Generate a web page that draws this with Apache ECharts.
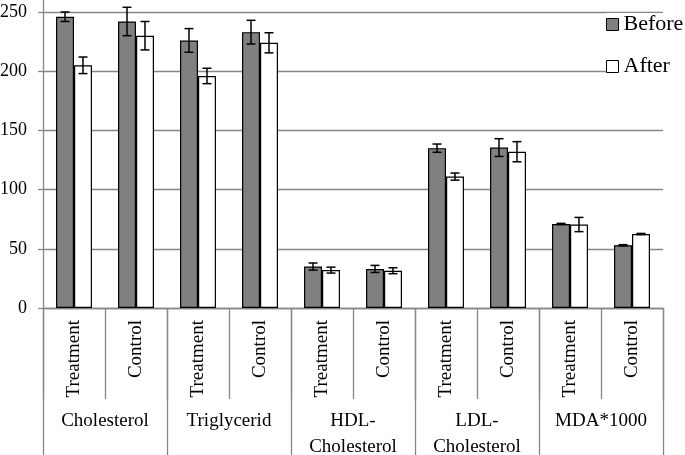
<!DOCTYPE html>
<html>
<head>
<meta charset="utf-8">
<script src="https://cdn.jsdelivr.net/npm/echarts@6/dist/echarts.min.js"></script>
<style>
  html, body { margin: 0; padding: 0; background: #fff; }
  #chart { width: 685px; height: 455px; }
</style>
</head>
<body>
<div id="chart"></div>
<script>
const subCategories = ['Treatment', 'Control', 'Treatment', 'Control', 'Treatment', 'Control', 'Treatment', 'Control', 'Treatment', 'Control'];
const groups = ['Cholesterol', 'Triglycerid', 'HDL-\nCholesterol', 'LDL-\nCholesterol', 'MDA*1000'];
const seriesNames = ['Before', 'After'];
const before = [246, 242, 226, 233, 35, 33, 135, 135.5, 71, 53];
const beforeErr = [4, 12, 10, 10, 3, 3, 3.5, 7.5, 0.5, 0.5];
const after = [205, 230, 196, 224, 32, 31.5, 111, 132, 70.5, 62.5];
const afterErr = [7, 12, 6.5, 8.5, 2.5, 2.5, 3, 8.5, 6, 0.5];
const yTicks = [0, 50, 100, 150, 200, 250];

const FONT = 'Liberation Serif';
const GRAY = '#868686';
const BAR_FRAC = 0.29;

function errRender(side) {
  return function (params, api) {
    const xi = api.value(0), v = api.value(1), e = api.value(2);
    const band = api.size([1, 0])[0];
    const off = side * band * BAR_FRAC / 2;
    const top = api.coord([xi, v + e]);
    const bot = api.coord([xi, v - e]);
    const x = top[0] + off;
    const cap = 4.5;
    const style = { stroke: '#000', lineWidth: 1.5 };
    return {
      type: 'group',
      children: [
        { type: 'line', shape: { x1: x, y1: top[1], x2: x, y2: bot[1] }, style: style },
        { type: 'line', shape: { x1: x - cap, y1: top[1], x2: x + cap, y2: top[1] }, style: style },
        { type: 'line', shape: { x1: x - cap, y1: bot[1], x2: x + cap, y2: bot[1] }, style: style }
      ]
    };
  };
}

const chart = echarts.init(document.getElementById('chart'), null, { renderer: 'canvas' });
chart.setOption({
  animation: false,
  backgroundColor: '#fff',
  textStyle: { fontFamily: FONT },
  grid: { left: 43, right: 22, top: -1, bottom: 147, outerBoundsMode: 'none', containLabel: false },
  legend: {
    orient: 'vertical',
    left: 606,
    top: 13,
    padding: 0,
    itemGap: 19,
    itemWidth: 12,
    itemHeight: 12,
    backgroundColor: '#fff',
    icon: 'rect',
    textStyle: { fontFamily: FONT, fontSize: 22, lineHeight: 23, color: '#000' },
    data: [
      { name: seriesNames[0], itemStyle: { color: '#808080', borderColor: '#000', borderWidth: 1 } },
      { name: seriesNames[1], itemStyle: { color: '#fff', borderColor: '#000', borderWidth: 1 } }
    ]
  },
  xAxis: [
    {
      type: 'category',
      data: subCategories,
      position: 'bottom',
      axisLine: { show: true, lineStyle: { color: GRAY, width: 1.3 } },
      axisTick: { show: true, length: 91, lineStyle: { color: GRAY, width: 1.3 } },
      axisLabel: { interval: 0, rotate: 90, margin: 12, fontFamily: FONT, fontSize: 19, color: '#000' },
      splitLine: { show: false }
    },
    {
      type: 'category',
      data: groups,
      position: 'bottom',
      axisLine: { show: false },
      axisTick: { show: true, length: 147, lineStyle: { color: GRAY, width: 1.3 } },
      axisLabel: { interval: 0, margin: 100, fontFamily: FONT, fontSize: 19, lineHeight: 26, color: '#000' },
      splitLine: { show: false }
    }
  ],
  yAxis: {
    type: 'value',
    min: yTicks[0],
    max: 261,
    interval: 50,
    axisLine: { show: true, lineStyle: { color: GRAY, width: 1.3 } },
    axisTick: { show: true, length: 5, lineStyle: { color: GRAY, width: 1.3 } },
    axisLabel: { showMaxLabel: false, margin: 16, fontFamily: FONT, fontSize: 18, color: '#000' },
    splitLine: { show: true, showMaxLine: false, lineStyle: { color: GRAY, width: 1.3 } }
  },
  series: [
    {
      name: seriesNames[0], type: 'bar', xAxisIndex: 0, data: before,
      barWidth: (BAR_FRAC * 100) + '%', barGap: '0%',
      itemStyle: { color: '#808080', borderColor: '#000', borderWidth: 1.2 }
    },
    {
      name: seriesNames[1], type: 'bar', xAxisIndex: 0, data: after,
      barWidth: (BAR_FRAC * 100) + '%', barGap: '0%',
      itemStyle: { color: '#fff', borderColor: '#000', borderWidth: 1.2 }
    },
    {
      type: 'custom', xAxisIndex: 0, z: 5, silent: true,
      renderItem: errRender(-1),
      data: before.map((v, i) => [i, v, beforeErr[i]])
    },
    {
      type: 'custom', xAxisIndex: 0, z: 5, silent: true,
      renderItem: errRender(1),
      data: after.map((v, i) => [i, v, afterErr[i]])
    }
  ]
});
</script>
</body>
</html>
